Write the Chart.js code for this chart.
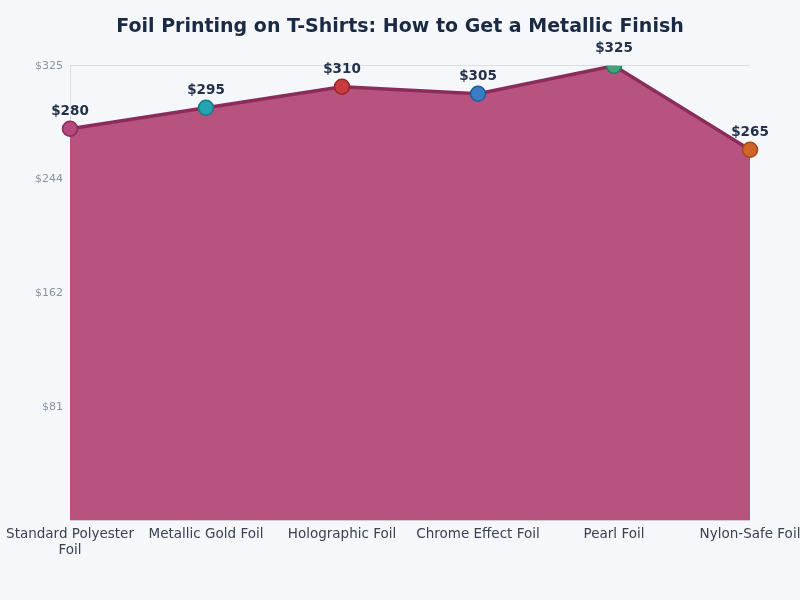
<!DOCTYPE html>
<html>
<head>
<meta charset="utf-8">
<script src="https://cdn.jsdelivr.net/npm/chart.js@4.4.0/dist/chart.umd.min.js"></script>
<style>
  html, body { margin: 0; padding: 0; background: #f5f7fb; }
  #wrap { width: 800px; height: 600px; }
</style>
</head>
<body>
<div id="wrap"><canvas id="grafico" width="800" height="600"></canvas></div>
<script>
const categorias = [["Standard Polyester", "Foil"], "Metallic Gold Foil", "Holographic Foil", "Chrome Effect Foil", "Pearl Foil", "Nylon-Safe Foil"];
const precios = [280, 295, 310, 305, 325, 265];
const coloresPunto = ["#b4497d", "#22a5b0", "#c83c3f", "#3b7bc3", "#40a57b", "#d0652a"];
const bordesPunto = ["#8a2a58", "#167c86", "#962528", "#27589a", "#2a7d5b", "#a34819"];
const etiquetasY = ["", "$81", "$162", "$244", "$325"];

const fuente = "'DejaVu Sans', sans-serif";

const etiquetasValor = {
    id: "etiquetasValor",
    afterDatasetsDraw(chart) {
        const ctx = chart.ctx;
        const meta = chart.getDatasetMeta(0);
        ctx.save();
        ctx.font = "bold 13.5px " + fuente;
        ctx.fillStyle = "#25304a";
        ctx.textAlign = "center";
        ctx.textBaseline = "bottom";
        meta.data.forEach((p, i) => {
            ctx.fillText("$" + precios[i], p.x, p.y - 11);
        });
        ctx.restore();
    }
};

new Chart(document.getElementById("grafico"), {
    type: "line",
    data: {
        labels: categorias,
        datasets: [{
            data: precios,
            fill: "origin",
            backgroundColor: "#b8527f",
            borderColor: "#8a2d5a",
            borderWidth: 3.5,
            tension: 0,
            pointRadius: 7.5,
            pointHoverRadius: 7.5,
            pointBackgroundColor: coloresPunto,
            pointBorderColor: bordesPunto,
            pointBorderWidth: 1.5
        }]
    },
    options: {
        responsive: false,
        animation: false,
        layout: { padding: { top: 0, right: 0, bottom: 35, left: 0 } },
        plugins: {
            legend: { display: false },
            tooltip: { enabled: false },
            title: {
                display: true,
                text: "Foil Printing on T-Shirts: How to Get a Metallic Finish",
                color: "#1b2a44",
                font: { family: fuente, size: 19, weight: "bold" },
                padding: { top: 16, bottom: 27 }
            }
        },
        scales: {
            x: {
                grid: { display: false, drawTicks: false },
                border: { display: false },
                ticks: { color: "#3a4150", font: { family: fuente, size: 13.5 }, maxRotation: 0, padding: 6 },
                afterFit(scale) { scale.paddingLeft = 0; scale.paddingRight = 50; }
            },
            y: {
                min: 0,
                max: 325,
                grid: { color: "#d9dde4", drawTicks: false },
                border: { display: true, color: "#d9dde4" },
                ticks: {
                    stepSize: 81.25,
                    color: "#8a93a3",
                    font: { family: fuente, size: 11 },
                    padding: 7,
                    callback: (v, i) => etiquetasY[i]
                },
                afterFit(scale) { scale.width = 70; }
            }
        }
    },
    plugins: [etiquetasValor]
});
</script>
</body>
</html>
